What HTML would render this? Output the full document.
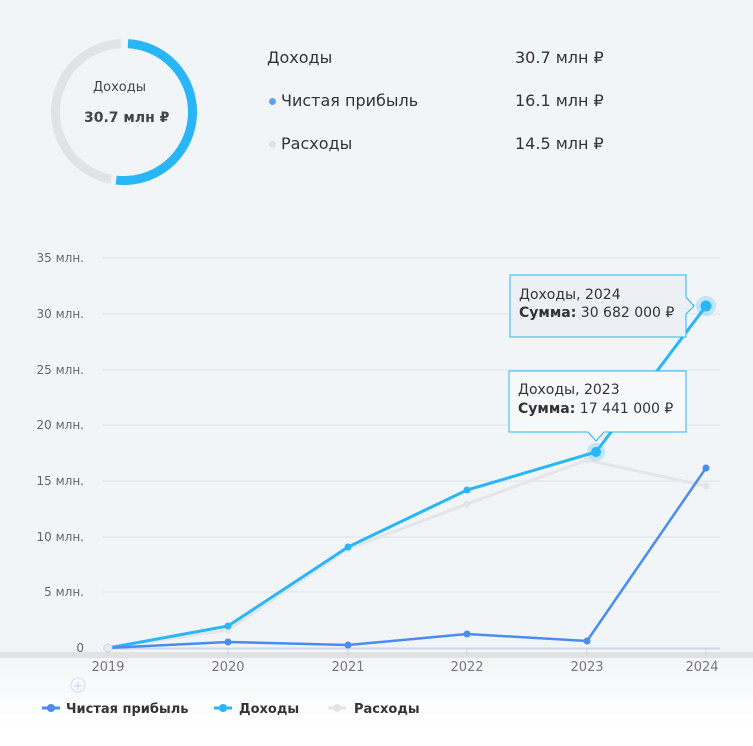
<!DOCTYPE html>
<html><head><meta charset="utf-8"><style>
body{margin:0;width:753px;height:746px;overflow:hidden;background:#fff;font-family:"DejaVu Sans","Liberation Sans",sans-serif;}
.bg{position:absolute;left:0;top:0;width:753px;height:652px;background:#f2f5f8;}
.t{position:absolute;color:#333;font-size:16px;}
</style></head><body>
<div class="bg"></div>
<svg width="753" height="746" style="position:absolute;left:0;top:0">
<defs><linearGradient id="fd" x1="0" y1="0" x2="0" y2="1"><stop offset="0" stop-color="#f4f6f8"/><stop offset="1" stop-color="#fff"/></linearGradient></defs>
<rect x="0" y="657" width="753" height="70" fill="url(#fd)"/>
<rect x="0" y="652" width="753" height="6" fill="#e2e2e2"/>
<g transform="rotate(-90 124 112)">
<circle cx="124" cy="112" r="68.5" fill="none" stroke="#e1e4e7" stroke-width="9" stroke-dasharray="0 228 199 10" />
<circle cx="124" cy="112" r="68.5" fill="none" stroke="#29b6f6" stroke-width="9" stroke-dasharray="0 4 219 210"/>
</g>
<g stroke="#dfe3e8" stroke-width="1">
<line x1="103" y1="258" x2="720" y2="258"/><line x1="103" y1="314" x2="720" y2="314"/><line x1="103" y1="370" x2="720" y2="370"/><line x1="103" y1="425" x2="720" y2="425"/><line x1="103" y1="481" x2="720" y2="481"/><line x1="103" y1="537" x2="720" y2="537"/><line x1="103" y1="592" x2="720" y2="592"/>
</g>
<line x1="103" y1="648.5" x2="720" y2="648.5" stroke="#ccd6e6" stroke-width="2"/>
<g stroke="#ccd6e6"><line x1="108" y1="648" x2="108" y2="656"/><line x1="228" y1="648" x2="228" y2="656"/><line x1="348" y1="648" x2="348" y2="656"/><line x1="467" y1="648" x2="467" y2="656"/><line x1="587" y1="648" x2="587" y2="656"/><line x1="706" y1="648" x2="706" y2="656"/></g>
<g font-family="DejaVu Sans,sans-serif" font-size="12" fill="#666" text-anchor="end">
<text x="84" y="262">35 млн.</text><text x="84" y="318">30 млн.</text><text x="84" y="374">25 млн.</text><text x="84" y="429">20 млн.</text><text x="84" y="485">15 млн.</text><text x="84" y="541">10 млн.</text><text x="84" y="596">5 млн.</text><text x="84" y="652">0</text>
</g>
<g font-family="DejaVu Sans,sans-serif" font-size="13" fill="#777" text-anchor="middle">
<text x="108" y="671">2019</text><text x="228" y="671">2020</text><text x="348" y="671">2021</text><text x="467" y="671">2022</text><text x="587" y="671">2023</text><text x="702" y="671">2024</text>
</g>
<polyline points="108,648 228,630 348,549 467,504 587,460 706,486" fill="none" stroke="#e3e5e8" stroke-width="3"/>
<g fill="#e3e5e8"><circle cx="228" cy="630" r="3.5"/><circle cx="348" cy="549" r="3.5"/><circle cx="467" cy="504" r="3.5"/><circle cx="587" cy="460" r="3.5"/><circle cx="706" cy="486" r="3.5"/></g>
<polyline points="108,648 228,626 348,547 467,490 596,452 706,306" fill="none" stroke="#29b6f6" stroke-width="3"/>
<g fill="#29b6f6"><circle cx="228" cy="626" r="3.5"/><circle cx="348" cy="547" r="3.5"/><circle cx="467" cy="490" r="3.5"/></g>
<circle cx="596" cy="452" r="9" fill="#29b6f6" opacity="0.25"/><circle cx="596" cy="452" r="5" fill="#29b6f6"/>
<circle cx="706" cy="306" r="10" fill="#29b6f6" opacity="0.25"/><circle cx="706" cy="306" r="5.5" fill="#29b6f6"/>
<polyline points="108,648 228,642 348,645 467,634 587,641 706,468" fill="none" stroke="#4a8cf0" stroke-width="2.5"/>
<g fill="#4a8cf0"><circle cx="228" cy="642" r="3.5"/><circle cx="348" cy="645" r="3.5"/><circle cx="467" cy="634" r="3.5"/><circle cx="587" cy="641" r="3.5"/><circle cx="706" cy="468" r="3.5"/></g>
<circle cx="108" cy="648" r="4" fill="#e8ecef" stroke="#ccd6e6"/>
<path d="M510 275 H686 V297 L694 306 L686 314 V337 H510 Z" fill="#ecf0f4" stroke="#29b6f6" stroke-width="1"/>
<path d="M509 371 H686 V432 H604 L596 441 L588 432 H509 Z" fill="#f7f8f9" stroke="#29b6f6" stroke-width="1"/>
<g font-family="DejaVu Sans,sans-serif" font-size="14" fill="#333">
<text x="519" y="299">Доходы, 2024</text><text x="519" y="317"><tspan font-weight="bold">Сумма:</tspan> 30 682 000 ₽</text>
<text x="518" y="394">Доходы, 2023</text><text x="518" y="413"><tspan font-weight="bold">Сумма:</tspan> 17 441 000 ₽</text>
</g>
<circle cx="78" cy="685" r="7" fill="none" stroke="#dde6f3" stroke-width="1.5"/><text x="78" y="690" font-size="13" fill="#c9d8ee" text-anchor="middle">+</text>
<line x1="42" y1="708" x2="60" y2="708" stroke="#4a8cf0" stroke-width="3"/><circle cx="51" cy="708" r="4" fill="#4a8cf0"/>
<line x1="214" y1="708" x2="232" y2="708" stroke="#29b6f6" stroke-width="3"/><circle cx="223" cy="708" r="4" fill="#29b6f6"/>
<line x1="328" y1="708" x2="346" y2="708" stroke="#e3e5e8" stroke-width="3"/><circle cx="337" cy="708" r="4" fill="#e3e5e8"/>
<g font-family="DejaVu Sans,sans-serif" font-size="13" font-weight="bold" fill="#333">
<text x="66" y="713">Чистая прибыль</text><text x="239" y="713">Доходы</text><text x="354" y="713">Расходы</text>
</g>
</svg>
<div class="t" style="left:93px;top:80px;font-size:13px;color:#444">Доходы</div>
<div class="t" style="left:84px;top:110px;font-size:14px;font-weight:bold;color:#444">30.7 млн ₽</div>
<div class="t" style="left:267px;top:48px">Доходы</div>
<div class="t" style="left:281px;top:91px">Чистая прибыль</div>
<div class="t" style="left:281px;top:134px">Расходы</div>
<div style="position:absolute;left:269px;top:98px;width:7px;height:7px;border-radius:50%;background:#5ea3f3"></div>
<div style="position:absolute;left:269px;top:141px;width:7px;height:7px;border-radius:50%;background:#dde3ec"></div>
<div class="t" style="left:515px;top:48px">30.7 млн ₽</div>
<div class="t" style="left:515px;top:91px">16.1 млн ₽</div>
<div class="t" style="left:515px;top:134px">14.5 млн ₽</div>
</body></html>
